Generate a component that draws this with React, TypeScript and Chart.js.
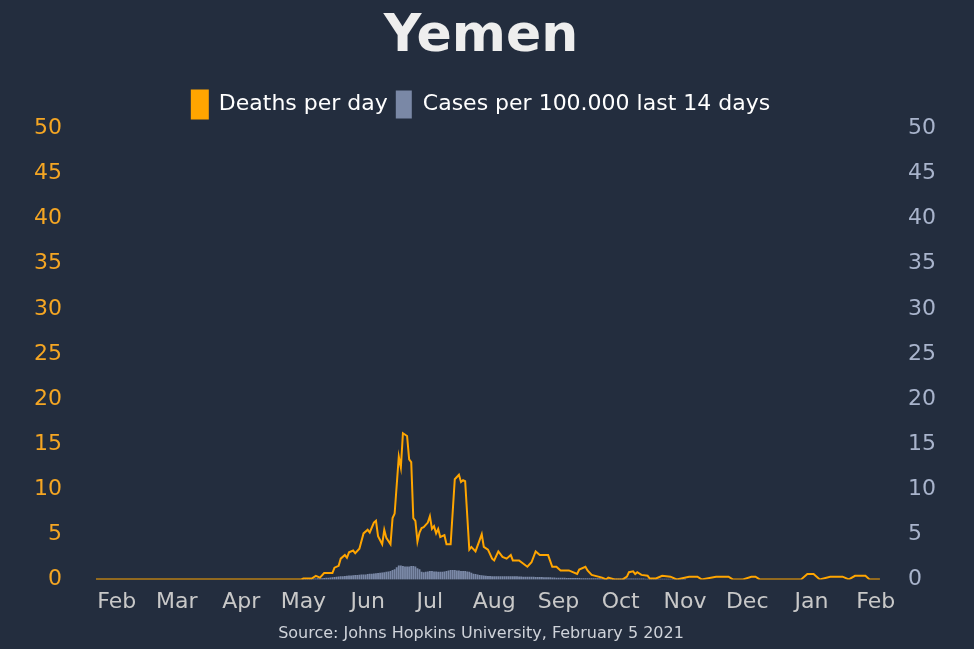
import { useEffect, useRef } from 'react'
import Chart from 'chart.js/auto'

// day 0 = Jan 22 2020
const monthTickDays = [10, 39, 70, 100, 131, 161, 192, 223, 253, 284, 314, 345, 376]
const monthLabels = ['Feb', 'Mar', 'Apr', 'May', 'Jun', 'Jul', 'Aug', 'Sep', 'Oct', 'Nov', 'Dec', 'Jan', 'Feb']

const deathDays = [
  0, 99, 100, 104, 106, 108, 110, 114, 115, 117, 118, 120, 121, 122, 124, 125, 127, 129, 131, 132, 134, 135,
  136, 138, 139, 140, 142, 143, 144, 146, 147, 148, 150, 151, 152, 153, 154, 155, 156, 157, 158, 160, 161,
  162, 163, 164, 165, 166, 168, 169, 171, 173, 175, 176, 177, 178, 180, 181, 183, 186, 187, 189, 191, 192,
  194, 195, 196, 198, 200, 201, 202, 204, 208, 210, 212, 214, 216, 218, 220, 222, 224, 225, 228, 232, 233,
  236, 237, 239, 244, 246, 247, 250, 254, 256, 257, 259, 260, 261, 263, 266, 267, 270, 273, 277, 280, 286,
  290, 292, 299, 305, 307, 312, 316, 318, 320, 340, 343, 346, 349, 354, 360, 363, 366, 371, 373, 378,
]
const deathValues = [
  0, 0, 0.1, 0.1, 0.4, 0.2, 0.7, 0.7, 1.3, 1.5, 2.3, 2.7, 2.4, 3.0, 3.2, 2.9, 3.4, 5.1, 5.5, 5.2, 6.3, 6.5,
  4.8, 3.9, 5.5, 4.6, 3.9, 6.8, 7.3, 13.6, 12.4, 16.2, 15.9, 13.3, 13.0, 6.8, 6.5, 4.2, 5.2, 5.7, 5.8, 6.3,
  7.0, 5.6, 5.9, 5.1, 5.6, 4.7, 4.9, 3.9, 3.9, 11.1, 11.6, 10.8, 11.0, 10.9, 3.3, 3.6, 3.1, 5.0, 3.6, 3.3,
  2.3, 2.1, 3.1, 2.8, 2.5, 2.3, 2.7, 2.1, 2.1, 2.1, 1.4, 1.9, 3.1, 2.7, 2.7, 2.7, 1.4, 1.4, 1.0, 1.0, 1.0,
  0.6, 1.1, 1.4, 1.0, 0.5, 0.2, 0, 0.2, 0, 0, 0.3, 0.8, 0.9, 0.6, 0.8, 0.5, 0.4, 0.1, 0.1, 0.4, 0.3, 0, 0.3,
  0.3, 0, 0.3, 0.3, 0, 0, 0.3, 0.3, 0, 0, 0.6, 0.6, 0, 0.3, 0.3, 0, 0.4, 0.4, 0, 0,
]

const casesStartDay = 100
const casesValues = [
  0, 0, 0.02, 0.03, 0.05,
  0.05, 0.07, 0.08, 0.1, 0.1, 0.12, 0.15, 0.15, 0.18, 0.2,
  0.22, 0.25, 0.28, 0.3, 0.32, 0.35, 0.38, 0.4, 0.4, 0.42,
  0.45, 0.45, 0.48, 0.5, 0.5, 0.52, 0.55, 0.6, 0.6, 0.62,
  0.65, 0.68, 0.7, 0.72, 0.75, 0.8, 0.85, 0.9, 1.0, 1.1,
  1.3, 1.5, 1.5, 1.45, 1.4, 1.4, 1.4, 1.45, 1.45, 1.4,
  1.2, 1.1, 0.8, 0.75, 0.8, 0.85, 0.9, 0.9, 0.85, 0.85,
  0.8, 0.8, 0.8, 0.85, 0.9, 0.95, 1.0, 1.0, 1.0, 0.95,
  0.95, 0.9, 0.9, 0.9, 0.85, 0.8, 0.7, 0.6, 0.55, 0.5,
  0.45, 0.42, 0.4, 0.38, 0.35, 0.33, 0.32, 0.3, 0.3, 0.3,
  0.3, 0.3, 0.3, 0.3, 0.3, 0.3, 0.3, 0.3, 0.3, 0.28,
  0.28, 0.27, 0.27, 0.26, 0.25, 0.25, 0.25, 0.24, 0.23, 0.22,
  0.22, 0.2, 0.2, 0.2, 0.19, 0.18, 0.17, 0.16, 0.15, 0.15,
  0.14, 0.14, 0.13, 0.13, 0.12, 0.12, 0.12, 0.11, 0.11, 0.1,
  0.1, 0.1, 0.1, 0.1, 0.09, 0.09, 0.08, 0.08, 0.08, 0.07,
  0.07, 0.07, 0.06, 0.06, 0.06, 0.06, 0.05, 0.05, 0.05, 0.05,
  0.05, 0.05, 0.05, 0.05, 0.05, 0.05, 0.05, 0.05, 0.05, 0.05,
  0.04, 0.04, 0.04, 0.04, 0.04, 0.04, 0.04, 0.04, 0.04, 0.04,
  0.04, 0.04, 0.04, 0.04, 0.04, 0.03, 0.03, 0.03, 0.03, 0.03,
]

const FONT = "'DejaVu Sans', sans-serif"

export default function App() {
  const canvasRef = useRef<HTMLCanvasElement>(null)

  useEffect(() => {
    document.body.style.margin = '0'
    if (!canvasRef.current) return
    const ctx = canvasRef.current.getContext('2d')
    if (!ctx) return

    const chart = new Chart(ctx, {
      type: 'bar',
      data: {
        datasets: [
          {
            type: 'line',
            label: 'Deaths per day',
            data: deathDays.map((d, i) => ({ x: d, y: deathValues[i] })),
            borderColor: '#ffa500',
            backgroundColor: '#ffa500',
            borderWidth: 2,
            pointRadius: 0,
            tension: 0,
            yAxisID: 'y',
            order: 0,
          },
          {
            type: 'bar',
            label: 'Cases per 100.000 last 14 days',
            data: casesValues.map((v, i) => ({ x: casesStartDay + i, y: v })),
            backgroundColor: '#7a88a6',
            barThickness: 1.2,
            yAxisID: 'y1',
            order: 1,
          },
        ],
      },
      options: {
        animation: false,
        responsive: true,
        maintainAspectRatio: false,
        layout: { padding: { left: 8, right: 20, top: 2, bottom: 6 } },
        plugins: {
          title: {
            display: true,
            text: 'Yemen',
            color: '#eeeeee',
            font: { family: FONT, size: 52, weight: 'bold' },
            padding: { top: 4, bottom: 14 },
          },
          subtitle: {
            display: true,
            position: 'bottom',
            text: 'Source: Johns Hopkins University, February 5 2021',
            color: '#cfd3da',
            font: { family: FONT, size: 16 },
            padding: { top: 6, bottom: 0 },
          },
          legend: {
            display: true,
            labels: {
              color: '#ffffff',
              font: { family: FONT, size: 22 },
              boxWidth: 16,
              boxHeight: 28,
              padding: 8,
            },
          },
          tooltip: { enabled: false },
        },
        scales: {
          x: {
            type: 'linear',
            offset: false,
            min: 0,
            max: 379,
            grid: { display: false },
            border: { display: false },
            afterBuildTicks: (axis: any) => {
              axis.ticks = monthTickDays.map((v) => ({ value: v }))
            },
            ticks: {
              color: '#c8c8c8',
              font: { family: FONT, size: 22 },
              maxRotation: 0,
              autoSkip: false,
              padding: 2,
              callback: (v: any) => monthLabels[monthTickDays.indexOf(Number(v))] ?? '',
            },
          },
          y: {
            position: 'left',
            min: 0,
            max: 50,
            grid: { display: false },
            border: { display: false },
            ticks: { stepSize: 5, color: '#f5a623', font: { family: FONT, size: 22 }, padding: 26 },
          },
          y1: {
            position: 'right',
            min: 0,
            max: 50,
            grid: { display: false },
            border: { display: false },
            ticks: { stepSize: 5, color: '#a9b4cc', font: { family: FONT, size: 22 }, padding: 18 },
          },
        },
      },
    } as any)

    return () => chart.destroy()
  }, [])

  return (
    <div style={{ width: 974, height: 649, background: '#232d3e' }}>
      <canvas ref={canvasRef} />
    </div>
  )
}
